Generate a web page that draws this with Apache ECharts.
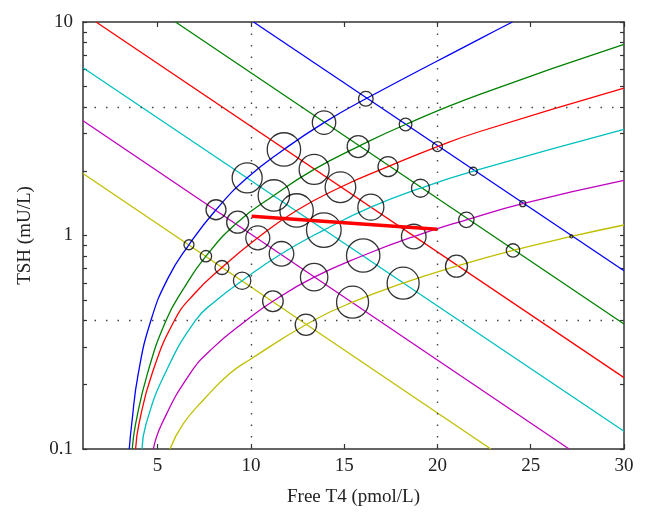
<!DOCTYPE html>
<html><head><meta charset="utf-8">
<script src="https://cdn.jsdelivr.net/npm/echarts@6/dist/echarts.min.js"></script>
<style>html,body{margin:0;padding:0;background:#fff}#c{width:647px;height:525px}</style>
</head><body><div id="c"></div>
<script>
// ---- tick values ----
const xTicks = [5, 10, 15, 20, 25, 30];
const yLabelTicks = [0.1, 1, 10];
const yAllTicks = [0.1,0.2,0.3,0.4,0.5,0.6,0.7,0.8,0.9,1,2,3,4,5,6,7,8,9,10];
const gridXLines = [10, 20];
const gridYLines = [0.4, 4];

// ---- decreasing lines (straight on log scale) ----
const decBlue    = [[10.14, 10], [30, 0.684]];
const decGreen   = [[5.96, 10], [30, 0.385]];
const decRed     = [[1.70, 10], [30, 0.216]];
const decCyan    = [[1, 6.11], [30, 0.121]];
const decMagenta = [[1, 3.45], [27.06, 0.1]];
const decYellow  = [[1, 1.95], [22.86, 0.1]];

// ---- rising curves ----
const riseBlue    = [[3.48,0.1],[3.61,0.131],[3.96,0.225],[4.64,0.4],[5.55,0.63],[6.68,0.905],[8.13,1.32],[9.80,1.863],[11.77,2.53],[13.92,3.38],[16.16,4.37],[22.27,8.34],[24.02,10]];
const riseGreen   = [[3.64,0.1],[3.82,0.131],[4.45,0.225],[5.45,0.4],[6.40,0.565],[7.59,0.80],[9.29,1.154],[11.23,1.54],[13.39,2.04],[15.75,2.61],[18.29,3.31],[22.27,4.58],[30,7.85]];
const riseRed     = [[3.82,0.1],[4.00,0.131],[4.70,0.225],[5.90,0.4],[6.96,0.532],[8.45,0.708],[10.37,0.975],[12.45,1.31],[14.80,1.683],[17.35,2.10],[20.0,2.61],[22.27,3.07],[30,4.90]];
const riseCyan    = [[4.16,0.1],[4.38,0.131],[5.39,0.225],[7.03,0.4],[8.12,0.495],[9.53,0.614],[11.64,0.821],[13.91,1.06],[16.43,1.357],[19.09,1.665],[21.92,2.00],[30,3.14]];
const riseMagenta = [[4.77,0.1],[5.22,0.131],[6.73,0.225],[8.01,0.300],[9.75,0.4],[11.18,0.492],[13.39,0.638],[16.02,0.806],[18.73,0.989],[21.55,1.184],[24.57,1.41],[30,1.81]];
const riseYellow  = [[5.66,0.1],[6.37,0.131],[7.49,0.171],[8.85,0.225],[10,0.264],[12.95,0.382],[15.45,0.487],[18.16,0.598],[21.02,0.718],[24.05,0.851],[27.18,0.99],[30,1.12]];

// ---- thick red trend line ----
const trendLine = [[10.04, 1.23], [19.98, 1.07]];

// ---- circles (intersections) and their weights ----
const circlesB = [[16.16,4.37],[18.29,3.31],[20.0,2.61],[21.92,2.00],[24.57,1.41],[27.18,0.99]];
const circlesG = [[13.92,3.38],[15.75,2.61],[17.35,2.10],[19.09,1.665],[21.55,1.184],[24.05,0.851]];
const circlesR = [[11.77,2.53],[13.39,2.04],[14.80,1.683],[16.43,1.357],[18.73,0.989],[21.02,0.718]];
const circlesC = [[9.80,1.863],[11.23,1.54],[12.45,1.31],[13.91,1.06],[16.02,0.806],[18.16,0.598]];
const circlesM = [[8.13,1.32],[9.29,1.154],[10.37,0.975],[11.64,0.821],[13.39,0.638],[15.45,0.487]];
const circlesY = [[6.68,0.905],[7.59,0.80],[8.45,0.708],[9.53,0.614],[11.18,0.492],[12.95,0.382]];
const weightsB = [7.3, 6.3, 5, 4, 3, 1.5];
const weightsG = [11.7, 11, 10, 9, 7.7, 6.7];
const weightsR = [16.7, 15, 15.3, 13, 12.3, 11];
const weightsC = [15, 15.7, 16.7, 17.3, 16.7, 16];
const weightsM = [10, 11, 12, 12.3, 13.7, 16];
const weightsY = [5, 5.7, 7, 8.7, 10.3, 10.7];

const COLORS = {blue:'#0000ff', green:'#008000', red:'#ff0000', cyan:'#00bfbf', magenta:'#bf00bf', yellow:'#bfbf00'};
const FONT = 'Liberation Serif';
const AX = '#333';

function lineSeries(data, color, smooth) {
  return {type:'line', data:data, showSymbol:false, symbol:'none', smooth:smooth ? 0.5 : false,
    silent:true, z:3, lineStyle:{color:color, width:1.3}};
}
function circleSeries(pts, w) {
  return {type:'scatter', data:pts.map((p,i)=>[p[0],p[1],w[i]]), symbol:'circle',
    symbolSize:function(v){return v[2]*2;}, silent:true, z:4,
    itemStyle:{color:'rgba(0,0,0,0)', borderColor:'#000', borderWidth:1.3}};
}

const chart = echarts.init(document.getElementById('c'), null, {renderer:'canvas'});
const option = {
  animation:false,
  backgroundColor:'#fff',
  grid:{left:83, right:23, top:22, bottom:76, containLabel:false},
  xAxis:[{
    type:'value', min:1, max:30, position:'bottom',
    axisLine:{show:true, onZero:false, lineStyle:{color:AX, width:1.5}},
    axisTick:{show:true, inside:true, length:5, customValues:xTicks, lineStyle:{color:AX, width:1.2}},
    axisLabel:{customValues:xTicks, color:'#222', fontFamily:FONT, fontSize:19, margin:8},
    splitLine:{show:false},
    name:'Free T4 (pmol/L)', nameLocation:'middle', nameGap:39,
    nameTextStyle:{color:'#222', fontFamily:FONT, fontSize:19}
  },{
    type:'value', min:1, max:30, position:'top',
    axisLine:{show:true, onZero:false, lineStyle:{color:AX, width:1.5}},
    axisTick:{show:true, inside:true, length:5, customValues:xTicks, lineStyle:{color:AX, width:1.2}},
    axisLabel:{show:false}, splitLine:{show:false}
  }],
  yAxis:[{
    type:'log', logBase:10, min:0.1, max:10, position:'left',
    axisLine:{show:true, onZero:false, lineStyle:{color:AX, width:1.5}},
    axisTick:{show:true, inside:true, length:4, customValues:yAllTicks, lineStyle:{color:AX, width:1.2}},
    axisLabel:{customValues:yLabelTicks, color:'#222', fontFamily:FONT, fontSize:19, margin:10,
      formatter:function(v){return String(v);}},
    splitLine:{show:false}, minorTick:{show:false},
    name:'TSH (mU/L)', nameLocation:'middle', nameGap:48,
    nameTextStyle:{color:'#222', fontFamily:FONT, fontSize:19}
  },{
    type:'log', logBase:10, min:0.1, max:10, position:'right',
    axisLine:{show:true, onZero:false, lineStyle:{color:AX, width:1.5}},
    axisTick:{show:true, inside:true, length:4, customValues:yAllTicks, lineStyle:{color:AX, width:1.2}},
    axisLabel:{show:false}, splitLine:{show:false}
  }],
  series:[
    {type:'line', data:[], silent:true, z:1,
      markLine:{silent:true, symbol:['none','none'], label:{show:false},
        lineStyle:{color:'#444', width:1.4, type:[1.5,10]},
        data: gridXLines.map(v=>({xAxis:v})).concat(gridYLines.map(v=>({yAxis:v})))}},
    lineSeries(decBlue, COLORS.blue, false),
    lineSeries(decGreen, COLORS.green, false),
    lineSeries(decRed, COLORS.red, false),
    lineSeries(decCyan, COLORS.cyan, false),
    lineSeries(decMagenta, COLORS.magenta, false),
    lineSeries(decYellow, COLORS.yellow, false),
    lineSeries(riseBlue, COLORS.blue, true),
    lineSeries(riseGreen, COLORS.green, true),
    lineSeries(riseRed, COLORS.red, true),
    lineSeries(riseCyan, COLORS.cyan, true),
    lineSeries(riseMagenta, COLORS.magenta, true),
    lineSeries(riseYellow, COLORS.yellow, true),
    circleSeries(circlesB, weightsB),
    circleSeries(circlesG, weightsG),
    circleSeries(circlesR, weightsR),
    circleSeries(circlesC, weightsC),
    circleSeries(circlesM, weightsM),
    circleSeries(circlesY, weightsY),
    {type:'line', data:trendLine, showSymbol:false, symbol:'none', silent:true, z:5,
      lineStyle:{color:'#ff0000', width:3.5}}
  ]
};
chart.setOption(option);
</script></body></html>
